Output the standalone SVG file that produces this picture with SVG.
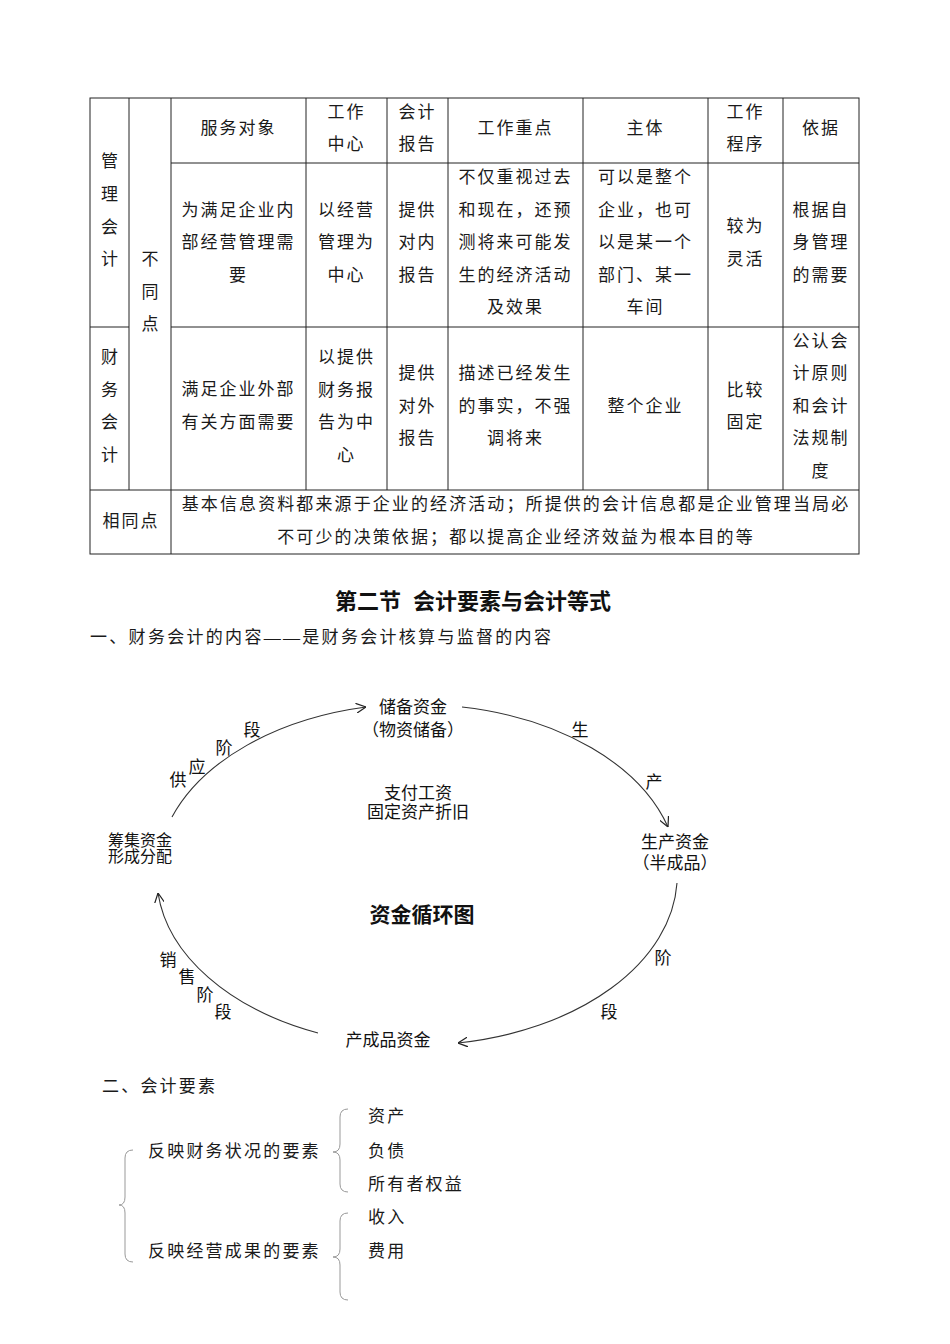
<svg xmlns="http://www.w3.org/2000/svg" width="950" height="1344" viewBox="0 0 950 1344">
<style>
.t{font-family:"Liberation Serif","Noto Sans CJK SC",serif;font-size:17px;letter-spacing:2px;fill:#1a1a1a;text-anchor:middle}
.l{font-family:"Liberation Serif","Noto Sans CJK SC",serif;font-size:17px;letter-spacing:2.2px;fill:#1a1a1a}
.d{font-family:"Liberation Sans","Noto Sans CJK SC",sans-serif;font-size:17px;fill:#111;text-anchor:middle}
.g{stroke:#222;stroke-width:1;fill:none}
.arc{stroke:#333;stroke-width:1.1;fill:none;marker-end:url(#ah)}
.br{stroke:#999;stroke-width:1;fill:none}
</style>
<defs>
<marker id="ah" viewBox="0 0 10 10" refX="10" refY="5" markerWidth="10" markerHeight="10" markerUnits="userSpaceOnUse" orient="auto">
<path d="M0,0 L10,5 L0,10" fill="none" stroke="#222" stroke-width="1.2"/>
</marker>
</defs>
<rect width="950" height="1344" fill="#fff"/>

<g id="table">
<rect class="g" x="90" y="98" width="769" height="456"/>
<path class="g" d="M171,163H859 M90,327H129 M171,327H859 M90,490H859 M129,98V490 M171,98V554 M306,98V490 M387,98V490 M448,98V490 M583,98V490 M708,98V490 M783,98V490"/>
</g>

<g id="table-header">
<text class="t" x="238.5" y="134">服务对象</text>
<text class="t" x="346.5" y="118">工作</text><text class="t" x="346.5" y="150">中心</text>
<text class="t" x="417.5" y="118">会计</text><text class="t" x="417.5" y="150">报告</text>
<text class="t" x="515.5" y="134">工作重点</text>
<text class="t" x="645.5" y="134">主体</text>
<text class="t" x="745.5" y="118">工作</text><text class="t" x="745.5" y="150">程序</text>
<text class="t" x="821" y="134">依据</text>
</g>

<g id="row-labels">
<text class="t" x="110.5" y="167">管</text><text class="t" x="110.5" y="200">理</text><text class="t" x="110.5" y="233">会</text><text class="t" x="110.5" y="265">计</text>
<text class="t" x="110.5" y="363">财</text><text class="t" x="110.5" y="396">务</text><text class="t" x="110.5" y="428">会</text><text class="t" x="110.5" y="461">计</text>
<text class="t" x="151" y="265">不</text><text class="t" x="151" y="298">同</text><text class="t" x="151" y="330">点</text>
</g>

<g id="row-management">
<text class="t" x="238.5" y="216">为满足企业内</text><text class="t" x="238.5" y="248">部经营管理需</text><text class="t" x="238.5" y="281">要</text>
<text class="t" x="346.5" y="216">以经营</text><text class="t" x="346.5" y="248">管理为</text><text class="t" x="346.5" y="281">中心</text>
<text class="t" x="417.5" y="216">提供</text><text class="t" x="417.5" y="248">对内</text><text class="t" x="417.5" y="281">报告</text>
<text class="t" x="515.5" y="183">不仅重视过去</text><text class="t" x="515.5" y="216">和现在，还预</text><text class="t" x="515.5" y="248">测将来可能发</text><text class="t" x="515.5" y="281">生的经济活动</text><text class="t" x="515.5" y="313">及效果</text>
<text class="t" x="645.5" y="183">可以是整个</text><text class="t" x="645.5" y="216">企业，也可</text><text class="t" x="645.5" y="248">以是某一个</text><text class="t" x="645.5" y="281">部门、某一</text><text class="t" x="645.5" y="313">车间</text>
<text class="t" x="745.5" y="232">较为</text><text class="t" x="745.5" y="265">灵活</text>
<text class="t" x="821" y="216">根据自</text><text class="t" x="821" y="248">身管理</text><text class="t" x="821" y="281">的需要</text>
</g>

<g id="row-financial">
<text class="t" x="238.5" y="395">满足企业外部</text><text class="t" x="238.5" y="428">有关方面需要</text>
<text class="t" x="346.5" y="363">以提供</text><text class="t" x="346.5" y="396">财务报</text><text class="t" x="346.5" y="428">告为中</text><text class="t" x="346.5" y="461">心</text>
<text class="t" x="417.5" y="379">提供</text><text class="t" x="417.5" y="412">对外</text><text class="t" x="417.5" y="444">报告</text>
<text class="t" x="515.5" y="379">描述已经发生</text><text class="t" x="515.5" y="412">的事实，不强</text><text class="t" x="515.5" y="444">调将来</text>
<text class="t" x="645.5" y="412">整个企业</text>
<text class="t" x="745.5" y="396">比较</text><text class="t" x="745.5" y="428">固定</text>
<text class="t" x="821" y="347">公认会</text><text class="t" x="821" y="379">计原则</text><text class="t" x="821" y="412">和会计</text><text class="t" x="821" y="444">法规制</text><text class="t" x="821" y="477">度</text>
</g>

<g id="row-common">
<text class="t" x="131" y="527">相同点</text>
<text class="t" x="516" y="510" style="letter-spacing:2.1px">基本信息资料都来源于企业的经济活动；所提供的会计信息都是企业管理当局必</text>
<text class="t" x="516" y="543" style="letter-spacing:2.1px">不可少的决策依据；都以提高企业经济效益为根本目的等</text>
</g>

<g id="headings">
<text x="473" y="609" style="font-family:'Liberation Sans','Noto Sans CJK SC',sans-serif;font-size:22px;font-weight:700;fill:#111;text-anchor:middle">第二节<tspan dx="12">会计要素与会计等式</tspan></text>
<text class="l" x="90" y="643" style="letter-spacing:2.3px">一、财务会计的内容——是财务会计核算与监督的内容</text>
</g>

<g id="connectors">
<path class="arc" d="M172,817 A261,170 0 0 1 366,707"/>
<path class="arc" d="M462,707 A261,170 0 0 1 668,827"/>
<path class="arc" d="M677,883 A261,170 0 0 1 458,1043"/>
<path class="arc" d="M318,1033 A261,170 0 0 1 158,893"/>
</g>

<g id="stage-labels">
<text class="d" x="178" y="786">供</text><text class="d" x="197" y="773">应</text><text class="d" x="224" y="754">阶</text><text class="d" x="252" y="736">段</text>
<text class="d" x="580" y="736">生</text><text class="d" x="654" y="788">产</text>
<text class="d" x="663" y="964">阶</text><text class="d" x="609" y="1018">段</text>
<text class="d" x="168" y="966">销</text><text class="d" x="187" y="983">售</text><text class="d" x="205" y="1001">阶</text><text class="d" x="223" y="1018">段</text>
</g>

<g id="node-reserve">
<text class="d" x="413" y="713">储备资金</text>
<text class="d" x="413" y="736">（物资储备）</text>
</g>
<g id="node-production">
<text class="d" x="675" y="848">生产资金</text>
<text class="d" x="675" y="869">（半成品）</text>
</g>
<g id="node-finished">
<text class="d" x="388" y="1046">产成品资金</text>
</g>
<g id="node-raise">
<text class="d" x="140" y="846" style="font-size:16px">筹集资金</text>
<text class="d" x="140" y="862" style="font-size:16px">形成分配</text>
</g>
<g id="node-center">
<text class="d" x="418" y="799">支付工资</text>
<text class="d" x="418" y="818">固定资产折旧</text>
</g>
<g id="title">
<text class="d" x="422" y="922" style="font-size:21px;font-weight:700">资金循环图</text>
</g>

<g id="elements">
<text class="l" x="102" y="1092">二、会计要素</text>
<text class="l" x="148" y="1157">反映财务状况的要素</text>
<text class="l" x="148" y="1257">反映经营成果的要素</text>
<text class="l" x="368" y="1122">资产</text>
<text class="l" x="368" y="1157">负债</text>
<text class="l" x="368" y="1190">所有者权益</text>
<text class="l" x="368" y="1223">收入</text>
<text class="l" x="368" y="1257">费用</text>
</g>

<g id="braces">
<path class="br" d="M133,1150 Q125,1150 125,1158 L125,1197 Q125,1205 119,1205 Q125,1205 125,1213 L125,1254 Q125,1262 133,1262"/>
<path class="br" d="M348,1109 Q340,1109 340,1117 L340,1144 Q340,1152 333,1152 Q340,1152 340,1160 L340,1184 Q340,1192 348,1192"/>
<path class="br" d="M348,1213 Q340,1213 340,1221 L340,1249 Q340,1257 333,1257 Q340,1257 340,1265 L340,1292 Q340,1300 348,1300"/>
</g>
</svg>
